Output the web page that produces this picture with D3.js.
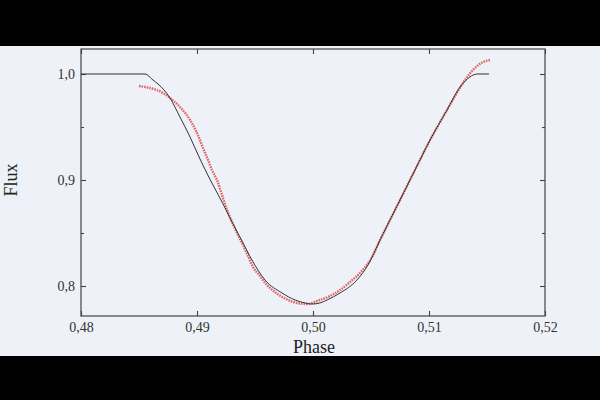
<!DOCTYPE html>
<html>
<head>
<meta charset="utf-8">
<script src="https://cdn.jsdelivr.net/npm/d3@7"></script>
<style>
  body { margin: 0; background: #000; }
  svg { display: block; }
</style>
</head>
<body>
<div id="chart"></div>
<script>
// model light curve (black line)
const modelPhase = [0.48000, 0.48552, 0.48621, 0.48664, 0.48767, 0.48853, 0.48940, 0.49026, 0.49115, 0.49216,
    0.49302, 0.49388, 0.49474, 0.49586, 0.49733, 0.49845, 0.49931, 0.49991, 0.50060, 0.50121,
    0.50233, 0.50379, 0.50474, 0.50578, 0.50750, 0.50879, 0.51009, 0.51155, 0.51267, 0.51353,
    0.51414, 0.51517];
const modelFlux = [1.0000, 1.0000, 0.9943, 0.9906, 0.9774, 0.9594, 0.9406, 0.9198, 0.9000, 0.8792,
    0.8604, 0.8425, 0.8245, 0.8057, 0.7934, 0.7868, 0.7840, 0.7830, 0.7840, 0.7868,
    0.7934, 0.8057, 0.8198, 0.8434, 0.8811, 0.9094, 0.9377, 0.9660, 0.9877, 0.9972,
    1.0000, 1.0000];

// observed points (red)
const obsPhase = [0.48500, 0.48595, 0.48707, 0.48767, 0.48853, 0.48940, 0.49000, 0.49052, 0.49095, 0.49129,
    0.49172, 0.49216, 0.49259, 0.49302, 0.49345, 0.49397, 0.49440, 0.49483, 0.49543, 0.49595,
    0.49672, 0.49750, 0.49862, 0.49948, 0.50060, 0.50147, 0.50233, 0.50319, 0.50405, 0.50509,
    0.50578, 0.50664, 0.50750, 0.50879, 0.51009, 0.51155, 0.51224, 0.51293, 0.51379, 0.51466,
    0.51526];
const obsFlux = [0.9887, 0.9868, 0.9821, 0.9774, 0.9689, 0.9566, 0.9443, 0.9302, 0.9189, 0.9094,
    0.9000, 0.8858, 0.8717, 0.8604, 0.8500, 0.8387, 0.8283, 0.8179, 0.8094, 0.8019,
    0.7943, 0.7887, 0.7840, 0.7830, 0.7868, 0.7906, 0.7962, 0.8038, 0.8123, 0.8274,
    0.8434, 0.8623, 0.8811, 0.9094, 0.9377, 0.9660, 0.9792, 0.9915, 1.0038, 1.0113,
    1.0132];

const xTicks = [0.48, 0.49, 0.50, 0.51, 0.52];
const yTicks = [0.8, 0.9, 1.0];
const yMinor = [0.85, 0.95];

const W = 600, H = 400;
const m = { left: 81, right: 545, top: 49, bottom: 316 };

const svg = d3.select('#chart').append('svg')
    .attr('width', W)
    .attr('height', H);

// letterbox + page
svg.append('rect').attr('width', W).attr('height', H).attr('fill', '#000');
svg.append('rect').attr('x', 0).attr('y', 46).attr('width', W).attr('height', 310).attr('fill', '#eef2f8');

const x = d3.scaleLinear().domain([0.48, 0.52]).range([m.left, m.right]);
const y = d3.scaleLinear().domain([0.7717, 1.0236]).range([m.bottom, m.top]);

const fmtX = d => d.toFixed(2).replace('.', ',');
const fmtY = d => d.toFixed(1).replace('.', ',');

function styleAxis(g) {
    g.select('.domain').remove();
    g.selectAll('line').attr('stroke', '#444').attr('stroke-width', 1.1);
    g.selectAll('text').attr('fill', '#333')
        .style('font-family', '"Liberation Serif", "DejaVu Serif", serif')
        .style('font-size', '14px');
}

svg.append('g').attr('transform', `translate(0,${m.bottom})`)
    .call(d3.axisBottom(x).tickValues(xTicks).tickSize(-5).tickPadding(6).tickFormat(fmtX))
    .call(styleAxis);
svg.append('g').attr('transform', `translate(0,${m.top})`)
    .call(d3.axisTop(x).tickValues(xTicks).tickSize(-5).tickFormat(''))
    .call(styleAxis);
svg.append('g').attr('transform', `translate(${m.left},0)`)
    .call(d3.axisLeft(y).tickValues(yTicks).tickSize(-5).tickPadding(6).tickFormat(fmtY))
    .call(styleAxis);
svg.append('g').attr('transform', `translate(${m.right},0)`)
    .call(d3.axisRight(y).tickValues(yTicks).tickSize(-5).tickFormat(''))
    .call(styleAxis);
svg.append('g').attr('transform', `translate(${m.left},0)`)
    .call(d3.axisLeft(y).tickValues(yMinor).tickSize(-3).tickFormat(''))
    .call(styleAxis);
svg.append('g').attr('transform', `translate(${m.right},0)`)
    .call(d3.axisRight(y).tickValues(yMinor).tickSize(-3).tickFormat(''))
    .call(styleAxis);

// frame
svg.append('rect')
    .attr('x', m.left).attr('y', m.top)
    .attr('width', m.right - m.left).attr('height', m.bottom - m.top)
    .attr('fill', 'none').attr('stroke', '#444').attr('stroke-width', 1.2);

const model = modelPhase.map((p, i) => ({ p: p, f: modelFlux[i] }));
const obs = obsPhase.map((p, i) => ({ p: p, f: obsFlux[i] }));

const line = d3.line().x(d => x(d.p)).y(d => y(d.f)).curve(d3.curveMonotoneX);

svg.append('path')
    .datum(obs)
    .attr('d', line)
    .attr('fill', 'none')
    .attr('stroke', '#e06464')
    .attr('stroke-width', 2.4)
    .attr('stroke-dasharray', '1.6,1');

svg.append('path')
    .datum(model)
    .attr('d', line)
    .attr('fill', 'none')
    .attr('stroke', '#333')
    .attr('stroke-width', 1);

// axis titles
svg.append('text')
    .attr('x', (m.left + m.right) / 2 + 1).attr('y', 353)
    .attr('text-anchor', 'middle')
    .style('font-family', '"Liberation Serif", "DejaVu Serif", serif')
    .style('font-size', '18px')
    .attr('fill', '#222')
    .text('Phase');

svg.append('text')
    .attr('transform', 'translate(17,180) rotate(-90)')
    .attr('text-anchor', 'middle')
    .style('font-family', '"Liberation Serif", "DejaVu Serif", serif')
    .style('font-size', '18px')
    .attr('fill', '#222')
    .text('Flux');
</script>
</body>
</html>
